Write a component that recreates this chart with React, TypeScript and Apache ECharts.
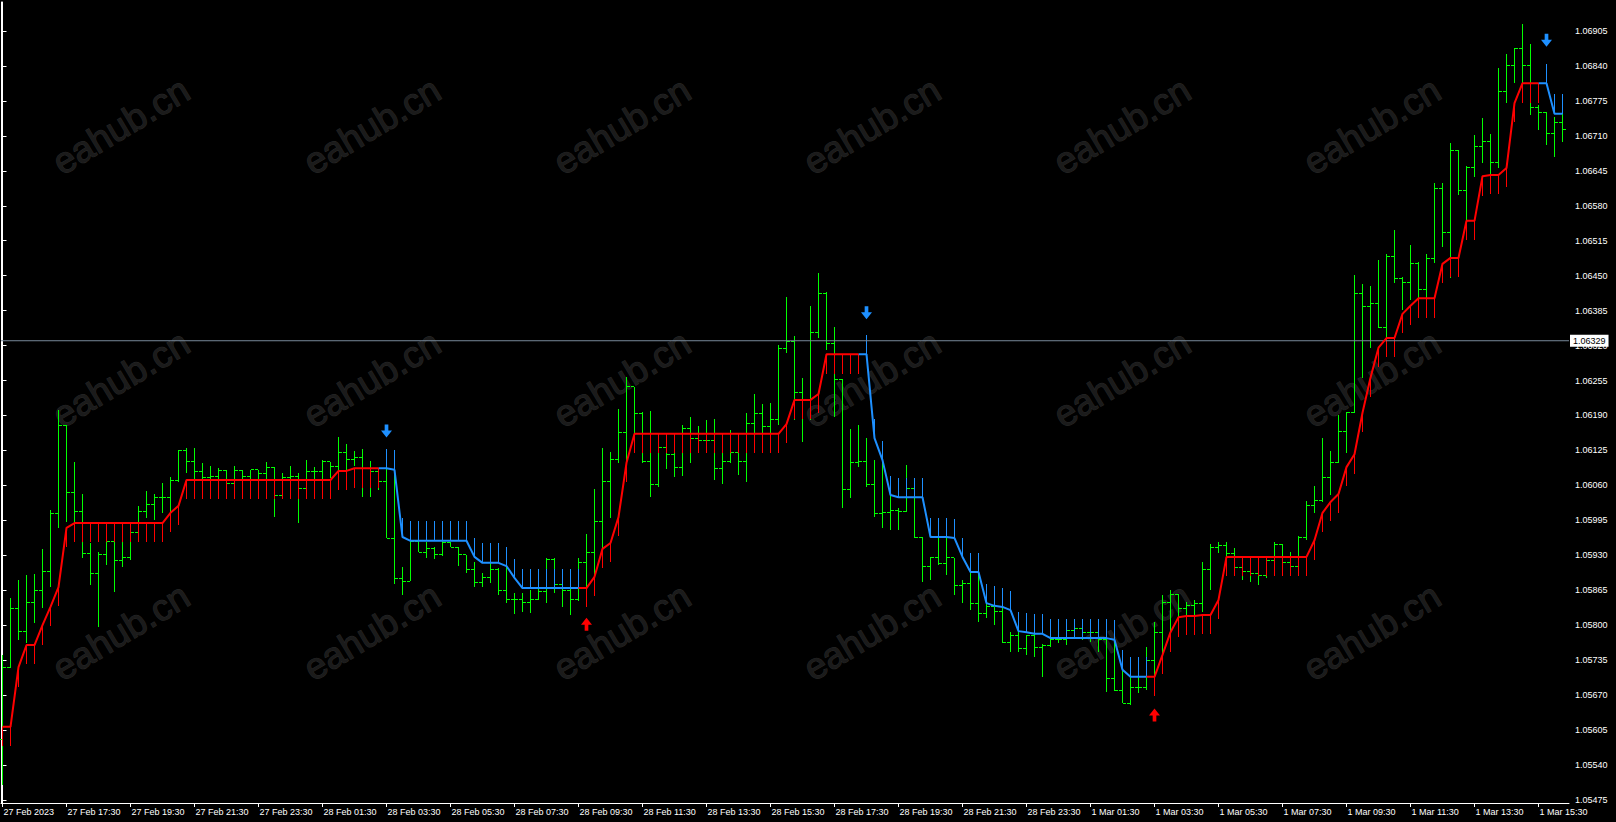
import React, { useEffect, useRef } from "react";
import * as echarts from "echarts";

// ---------- DATA (15-minute EURUSD bars, 27 Feb 2023 15:30 onwards) ----------
const OPEN = [
  1.05587, 1.05722, 1.05832, 1.05789, 1.05843, 1.05864, 1.05899, 1.06007, 1.06172, 1.06046,
  1.06012, 1.05934, 1.05897, 1.05931, 1.05955, 1.05921, 1.05925, 1.05973, 1.06012, 1.06024,
  1.06037, 1.06037, 1.0607, 1.06124, 1.06105, 1.06085, 1.06074, 1.06077, 1.06087, 1.06063,
  1.06087, 1.06077, 1.06089, 1.06083, 1.06094, 1.06042, 1.06074, 1.06077, 1.06055, 1.06085,
  1.06085, 1.06105, 1.06096, 1.06122, 1.06109, 1.06111, 1.06092, 1.06085, 1.06068, 1.05962,
  1.05886, 1.05882, 1.05955, 1.05936, 1.05942, 1.05932, 1.05953, 1.05945, 1.05931, 1.05903,
  1.0588, 1.05888, 1.05903, 1.05864, 1.05847, 1.05847, 1.05843, 1.05847, 1.05862, 1.05923,
  1.05875, 1.05865, 1.05847, 1.05916, 1.05936, 1.05992, 1.06068, 1.06109, 1.06159, 1.06243,
  1.06193, 1.06104, 1.06061, 1.06131, 1.06118, 1.06094, 1.06165, 1.06148, 1.06143, 1.06143,
  1.06092, 1.06105, 1.06122, 1.06104, 1.06176, 1.06193, 1.06169, 1.06182, 1.06314, 1.06327,
  1.06232, 1.06219, 1.06345, 1.06416, 1.06323, 1.06256, 1.06053, 1.06102, 1.06105, 1.06061,
  1.06007, 1.06009, 1.06014, 1.06012, 1.06055, 1.05964, 1.0591, 1.05925, 1.05914, 1.05925,
  1.05873, 1.05877, 1.05841, 1.05821, 1.05834, 1.05825, 1.05767, 1.0578, 1.05756, 1.0578,
  1.05758, 1.05763, 1.05773, 1.05773, 1.05791, 1.05793, 1.05787, 1.05786, 1.05773, 1.057,
  1.05678, 1.05655, 1.05685, 1.05685, 1.05735, 1.05787, 1.05843, 1.05858, 1.05832, 1.05836,
  1.05841, 1.05903, 1.05945, 1.05949, 1.05934, 1.05908, 1.05899, 1.05897, 1.05893, 1.05921,
  1.05951, 1.05916, 1.0591, 1.05964, 1.06022, 1.06031, 1.06074, 1.06102, 1.06161, 1.06196,
  1.06416, 1.06392, 1.06399, 1.06353, 1.06485, 1.06444, 1.06438, 1.06472, 1.06425, 1.06481,
  1.06613, 1.06531, 1.06682, 1.06609, 1.06652, 1.06691, 1.06699, 1.06661, 1.06792, 1.0684,
  1.06872, 1.0684, 1.06762, 1.06753, 1.06715, 1.06734,
];

const HIGH = [
  1.05745, 1.05851, 1.05884, 1.05893, 1.05895, 1.05942, 1.06014, 1.062, 1.06172, 1.06104,
  1.06044, 1.05953, 1.05936, 1.05955, 1.05955, 1.05955, 1.05973, 1.06022, 1.0605, 1.06044,
  1.06064, 1.06076, 1.06126, 1.0613, 1.0613, 1.06102, 1.06096, 1.06092, 1.06089, 1.06096,
  1.06089, 1.06089, 1.06089, 1.06104, 1.06094, 1.06083, 1.06096, 1.06083, 1.06107, 1.06094,
  1.06107, 1.06104, 1.0615, 1.06137, 1.06124, 1.06128, 1.06105, 1.06092, 1.06126, 1.06117,
  1.05908, 1.05957, 1.05957, 1.05955, 1.05945, 1.05957, 1.05955, 1.05945, 1.05931, 1.05918,
  1.05897, 1.05916, 1.05906, 1.05916, 1.0586, 1.0586, 1.05865, 1.05869, 1.05925, 1.05925,
  1.0588, 1.05901, 1.05925, 1.0597, 1.06053, 1.0613, 1.06122, 1.06202, 1.06262, 1.06243,
  1.06196, 1.06198, 1.06131, 1.06135, 1.0612, 1.06172, 1.06187, 1.0617, 1.06182, 1.06183,
  1.06156, 1.06163, 1.06157, 1.06195, 1.0623, 1.06211, 1.06213, 1.06321, 1.0641, 1.06338,
  1.0626, 1.06394, 1.06455, 1.0642, 1.06355, 1.06258, 1.06165, 1.06172, 1.06148, 1.06107,
  1.06122, 1.06074, 1.06018, 1.06098, 1.06055, 1.05964, 1.05927, 1.05964, 1.05964, 1.05925,
  1.05884, 1.05899, 1.05899, 1.05841, 1.05834, 1.05834, 1.05787, 1.05791, 1.05782, 1.05786,
  1.05765, 1.05776, 1.05778, 1.058, 1.0581, 1.05802, 1.05797, 1.05778, 1.05776, 1.05773,
  1.05715, 1.05704, 1.05704, 1.05759, 1.05806, 1.05856, 1.05865, 1.05858, 1.05843, 1.05847,
  1.05918, 1.05951, 1.05955, 1.05955, 1.05944, 1.0591, 1.05903, 1.05901, 1.05925, 1.05955,
  1.05951, 1.05936, 1.05966, 1.06031, 1.06059, 1.06148, 1.06124, 1.06191, 1.06196, 1.06451,
  1.06435, 1.06431, 1.06479, 1.0649, 1.06535, 1.06448, 1.06507, 1.06475, 1.0649, 1.06622,
  1.06622, 1.06697, 1.06684, 1.06654, 1.06712, 1.06743, 1.06713, 1.06836, 1.06862, 1.06873,
  1.06918, 1.06881, 1.06767, 1.06754, 1.06745, 1.06754,
];

const LOW = [
  1.05503, 1.0572, 1.05773, 1.05767, 1.05804, 1.05832, 1.05871, 1.05981, 1.05992, 1.05983,
  1.05925, 1.05875, 1.05797, 1.05912, 1.05862, 1.05908, 1.05921, 1.0597, 1.05999, 1.05996,
  1.06009, 1.06009, 1.06066, 1.06083, 1.06051, 1.06051, 1.06057, 1.06063, 1.06051, 1.06057,
  1.06061, 1.06066, 1.06064, 1.06068, 1.06001, 1.06038, 1.06055, 1.0599, 1.06055, 1.06066,
  1.0607, 1.06074, 1.06089, 1.06089, 1.06096, 1.06038, 1.06038, 1.06051, 1.05962, 1.05877,
  1.05856, 1.05882, 1.05936, 1.05925, 1.05923, 1.05929, 1.05945, 1.0591, 1.05897, 1.05871,
  1.05871, 1.05879, 1.05856, 1.05841, 1.05821, 1.05825, 1.05823, 1.05847, 1.05841, 1.0586,
  1.05834, 1.05819, 1.05845, 1.05847, 1.0589, 1.05942, 1.05999, 1.06102, 1.06066, 1.06157,
  1.06102, 1.06038, 1.06057, 1.06091, 1.06076, 1.06077, 1.06102, 1.0612, 1.06141, 1.0607,
  1.06063, 1.06102, 1.06079, 1.06066, 1.06156, 1.06156, 1.06157, 1.06172, 1.06306, 1.06182,
  1.06141, 1.06182, 1.06334, 1.06312, 1.06187, 1.06018, 1.06037, 1.06094, 1.06057, 1.06001,
  1.05981, 1.05977, 1.05977, 1.06011, 1.05962, 1.0588, 1.05884, 1.05912, 1.05893, 1.05856,
  1.05841, 1.05828, 1.05806, 1.05813, 1.058, 1.05767, 1.0575, 1.0575, 1.05745, 1.05741,
  1.05704, 1.05759, 1.05767, 1.05763, 1.05778, 1.05773, 1.05769, 1.0575, 1.05676, 1.05678,
  1.05655, 1.05652, 1.05674, 1.0568, 1.0568, 1.05745, 1.0575, 1.05815, 1.05815, 1.05815,
  1.05825, 1.05865, 1.05934, 1.05921, 1.05908, 1.05884, 1.0588, 1.05875, 1.05888, 1.05893,
  1.05908, 1.05908, 1.05908, 1.05958, 1.06009, 1.06029, 1.06042, 1.06102, 1.0612, 1.06195,
  1.0626, 1.06316, 1.06353, 1.0633, 1.06436, 1.06386, 1.06405, 1.06395, 1.06395, 1.06474,
  1.06503, 1.06446, 1.066, 1.06554, 1.06634, 1.0666, 1.06635, 1.0665, 1.06771, 1.06808,
  1.06808, 1.06749, 1.06721, 1.06693, 1.06671, 1.06699,
];

const CLOSE = [
  1.05722, 1.05832, 1.05789, 1.05843, 1.05864, 1.05899, 1.06007, 1.06172, 1.06046, 1.06012,
  1.05934, 1.05897, 1.05931, 1.05955, 1.05921, 1.05925, 1.05973, 1.06012, 1.06024, 1.06037,
  1.06037, 1.0607, 1.06124, 1.06105, 1.06085, 1.06074, 1.06077, 1.06087, 1.06063, 1.06087,
  1.06077, 1.06089, 1.06083, 1.06094, 1.06042, 1.06074, 1.06077, 1.06055, 1.06085, 1.06085,
  1.06105, 1.06096, 1.06122, 1.06109, 1.06111, 1.06092, 1.06085, 1.06068, 1.05962, 1.05886,
  1.05882, 1.05955, 1.05936, 1.05942, 1.05932, 1.05953, 1.05945, 1.05931, 1.05903, 1.0588,
  1.05888, 1.05903, 1.05864, 1.05847, 1.05847, 1.05843, 1.05847, 1.05862, 1.05923, 1.05875,
  1.05865, 1.05847, 1.05916, 1.05936, 1.05992, 1.06068, 1.06109, 1.06159, 1.06243, 1.06193,
  1.06104, 1.06061, 1.06131, 1.06118, 1.06094, 1.06165, 1.06148, 1.06143, 1.06143, 1.06092,
  1.06105, 1.06122, 1.06104, 1.06176, 1.06193, 1.06169, 1.06182, 1.06314, 1.06327, 1.06232,
  1.06219, 1.06345, 1.06416, 1.06323, 1.06256, 1.06053, 1.06102, 1.06105, 1.06061, 1.06007,
  1.06009, 1.06014, 1.06012, 1.06055, 1.05964, 1.0591, 1.05925, 1.05914, 1.05925, 1.05873,
  1.05877, 1.05841, 1.05821, 1.05834, 1.05825, 1.05767, 1.0578, 1.05756, 1.0578, 1.05758,
  1.05763, 1.05773, 1.05773, 1.05791, 1.05793, 1.05787, 1.05786, 1.05773, 1.057, 1.05678,
  1.05655, 1.05685, 1.05685, 1.05735, 1.05787, 1.05843, 1.05858, 1.05832, 1.05836, 1.05841,
  1.05903, 1.05945, 1.05949, 1.05934, 1.05908, 1.05899, 1.05897, 1.05893, 1.05921, 1.05951,
  1.05916, 1.0591, 1.05964, 1.06022, 1.06031, 1.06074, 1.06102, 1.06161, 1.06196, 1.06416,
  1.06392, 1.06399, 1.06353, 1.06485, 1.06444, 1.06438, 1.06472, 1.06425, 1.06481, 1.06613,
  1.06531, 1.06682, 1.06609, 1.06652, 1.06691, 1.06699, 1.06661, 1.06792, 1.0684, 1.06872,
  1.0684, 1.06762, 1.06753, 1.06715, 1.06734, 1.06721,
];

// trailing trend-line indicator value per bar
const TREND_LINE = [
  1.05611, 1.05611, 1.05722, 1.05763, 1.05763, 1.058, 1.05834, 1.05871, 1.05981, 1.0599,
  1.0599, 1.0599, 1.0599, 1.0599, 1.0599, 1.0599, 1.0599, 1.0599, 1.0599, 1.0599,
  1.0599, 1.06009, 1.06022, 1.0607, 1.0607, 1.0607, 1.0607, 1.0607, 1.0607, 1.0607,
  1.0607, 1.0607, 1.0607, 1.0607, 1.0607, 1.0607, 1.0607, 1.0607, 1.0607, 1.0607,
  1.0607, 1.0607, 1.06087, 1.06087, 1.06092, 1.06092, 1.06092, 1.06092, 1.06092, 1.06089,
  1.05964, 1.05957, 1.05957, 1.05957, 1.05957, 1.05957, 1.05957, 1.05957, 1.05957, 1.05927,
  1.05916, 1.05916, 1.05916, 1.0591, 1.05888, 1.05869, 1.05869, 1.05869, 1.05869, 1.05869,
  1.05869, 1.05869, 1.05869, 1.05869, 1.0589, 1.05942, 1.05953, 1.06001, 1.06102, 1.06156,
  1.06156, 1.06156, 1.06156, 1.06156, 1.06156, 1.06156, 1.06156, 1.06156, 1.06156, 1.06156,
  1.06156, 1.06156, 1.06156, 1.06156, 1.06156, 1.06156, 1.06156, 1.06156, 1.06174, 1.06219,
  1.06219, 1.06219, 1.0623, 1.06304, 1.06304, 1.06304, 1.06304, 1.06304, 1.06304, 1.06148,
  1.06107, 1.06042, 1.06038, 1.06038, 1.06038, 1.06038, 1.05964, 1.05964, 1.05964, 1.05962,
  1.05927, 1.05899, 1.05899, 1.05841, 1.05836, 1.05834, 1.05828, 1.05789, 1.05787, 1.05784,
  1.05784, 1.05776, 1.05776, 1.05776, 1.05776, 1.05776, 1.05776, 1.05776, 1.05776, 1.05773,
  1.05717, 1.05704, 1.05704, 1.05704, 1.05704, 1.05745, 1.05787, 1.05815, 1.05817, 1.05817,
  1.05819, 1.05819, 1.05847, 1.05927, 1.05927, 1.05927, 1.05927, 1.05927, 1.05927, 1.05927,
  1.05927, 1.05927, 1.05927, 1.05927, 1.05958, 1.06009, 1.06029, 1.06044, 1.06094, 1.06118,
  1.06195, 1.0626, 1.06316, 1.06334, 1.06334, 1.06379, 1.06394, 1.06408, 1.06408, 1.06408,
  1.06472, 1.06483, 1.06483, 1.06552, 1.06552, 1.06635, 1.06637, 1.06637, 1.0665, 1.06771,
  1.06808, 1.06808, 1.06808, 1.06808, 1.06751, 1.06751,
];

const FIRST_TREND_UP = true;
const TREND_FLIP_BARS = [48, 73, 108, 144, 193];
const HIST_DEPTH = 0.00036;

const SELL_ARROW_BARS = [48, 108, 193];
const SELL_ARROW_PRICES = [1.06161, 1.06381, 1.06888];
const BUY_ARROW_BARS = [73, 144];
const BUY_ARROW_PRICES = [1.05802, 1.05633];

const BID_PRICE = 1.06329;

const TIME_LABEL_BARS = [
  0, 8, 16, 24, 32, 40, 48, 56, 64, 72, 80, 88, 96, 104, 112, 120, 128, 136, 144, 152, 160, 168, 176, 184, 192,
];
const TIME_LABELS = [
  "27 Feb 2023", "27 Feb 17:30", "27 Feb 19:30", "27 Feb 21:30", "27 Feb 23:30",
  "28 Feb 01:30", "28 Feb 03:30", "28 Feb 05:30", "28 Feb 07:30", "28 Feb 09:30",
  "28 Feb 11:30", "28 Feb 13:30", "28 Feb 15:30", "28 Feb 17:30", "28 Feb 19:30",
  "28 Feb 21:30", "28 Feb 23:30", "1 Mar 01:30", "1 Mar 03:30", "1 Mar 05:30",
  "1 Mar 07:30", "1 Mar 09:30", "1 Mar 11:30", "1 Mar 13:30", "1 Mar 15:30",
];
const PRICE_LABELS = [
  "1.05475", "1.05540", "1.05605", "1.05670", "1.05735", "1.05800", "1.05865", "1.05930",
  "1.05995", "1.06060", "1.06125", "1.06190", "1.06255", "1.06320", "1.06385", "1.06450",
  "1.06515", "1.06580", "1.06645", "1.06710", "1.06775", "1.06840", "1.06905",
];

const WATERMARK = "eahub.cn";

// ---------- STYLE ----------
const GREEN = "#00ff00";
const RED = "#ff0000";
const BLUE = "#1e90ff";
const FONT = '"Liberation Sans", Arial, sans-serif';
const X_MIN = -0.1875;
const X_MAX = 195.8125;
const Y_MIN = 1.054694;
const Y_MAX = 1.069589;

const DOWN_ARROW = "path://M4,0 L8,0 L8,6 L12,6 L6,13 L0,6 L4,6 Z";
const UP_ARROW = "path://M6,0 L12,7 L8,7 L8,13 L4,13 L4,7 L0,7 Z";

function isUp(i: number): boolean {
  let up = FIRST_TREND_UP;
  for (const b of TREND_FLIP_BARS) if (i >= b) up = !up;
  return up;
}

export default function App() {
  const ref = useRef<HTMLDivElement>(null);

  useEffect(() => {
    if (!ref.current) return;
    const chart = echarts.init(ref.current, undefined, { renderer: "svg" });
    const n = CLOSE.length;

    const ohlc = CLOSE.map((c, i) => [i, OPEN[i], HIGH[i], LOW[i], c]);
    const hist = TREND_LINE.map((v, i) => [i, v, isUp(i) ? 1 : -1]);
    const upData: any[] = [];
    const downData: any[] = [];
    for (let i = 0; i < n; i++) {
      const u = isUp(i);
      const nextUp = i + 1 < n ? isUp(i + 1) : u;
      upData.push([i, u || nextUp ? TREND_LINE[i] : "-"]);
      downData.push([i, !u || !nextUp ? TREND_LINE[i] : "-"]);
    }

    const priceTicks = PRICE_LABELS.map((s) => parseFloat(s));

    const wmCols = [121, 372, 622, 872, 1122, 1372];
    const wmRows = [126, 379, 632];
    const graphics: any[] = [];
    wmRows.forEach((y) =>
      wmCols.forEach((x) =>
        graphics.push({
          type: "text",
          x,
          y,
          z: -10,
          silent: true,
          rotation: (31 * Math.PI) / 180,
          style: {
            text: WATERMARK,
            fill: "#1b1b1b",
            stroke: "#282828",
            lineWidth: 1,
            font: `37px ${FONT}`,
            textAlign: "center",
            textVerticalAlign: "middle",
            align: "center",
            verticalAlign: "middle",
          },
        })
      )
    );

    const option: any = {
      animation: false,
      backgroundColor: "#000000",
      grid: { left: 1, right: 47, top: 2, bottom: 19, containLabel: false },
      graphic: { elements: graphics },
      xAxis: {
        type: "value",
        min: X_MIN,
        max: X_MAX,
        axisLine: { show: true, onZero: false, lineStyle: { color: "#ffffff", width: 1 } },
        axisTick: {
          show: true,
          customValues: TIME_LABEL_BARS,
          length: 4,
          lineStyle: { color: "#ffffff" },
        },
        axisLabel: {
          show: true,
          customValues: TIME_LABEL_BARS,
          formatter: (v: number) => {
            const k = TIME_LABEL_BARS.indexOf(Math.round(v));
            return k >= 0 ? TIME_LABELS[k] : "";
          },
          color: "#ffffff",
          fontSize: 9,
          fontFamily: FONT,
          align: "left",
          margin: 4,
          padding: [0, 0, 0, 1],
        },
        splitLine: { show: false },
      },
      yAxis: [
        {
          type: "value",
          position: "right",
          min: Y_MIN,
          max: Y_MAX,
          axisLine: { show: true, lineStyle: { color: "#ffffff", width: 1 } },
          axisTick: {
            show: true,
            customValues: priceTicks,
            length: 4,
            lineStyle: { color: "#ffffff" },
          },
          axisLabel: {
            show: true,
            customValues: priceTicks,
            formatter: (v: number) => v.toFixed(5),
            color: "#ffffff",
            fontSize: 9,
            fontFamily: FONT,
            margin: 6,
          },
          splitLine: { show: false },
        },
        {
          type: "value",
          position: "left",
          min: Y_MIN,
          max: Y_MAX,
          axisLine: { show: true, lineStyle: { color: "#ffffff", width: 1 } },
          axisTick: { show: false },
          axisLabel: { show: false },
          splitLine: { show: false },
        },
      ],
      series: [
        {
          type: "custom",
          name: "bars",
          z: 2,
          silent: true,
          data: ohlc,
          renderItem: (params: any, api: any) => {
            const i = api.value(0);
            const pO = api.coord([i, api.value(1)]);
            const pH = api.coord([i, api.value(2)]);
            const pL = api.coord([i, api.value(3)]);
            const pC = api.coord([i, api.value(4)]);
            const x = Math.floor(pO[0]) + 0.5;
            const yH = Math.round(pH[1]);
            const yL = Math.max(Math.round(pL[1]), yH + 1);
            const yO = Math.floor(pO[1]) + 0.5;
            const yC = Math.floor(pC[1]) + 0.5;
            const st = { stroke: GREEN, lineWidth: 1 };
            return {
              type: "group",
              children: [
                { type: "line", shape: { x1: x, y1: yH, x2: x, y2: yL }, style: st },
                { type: "line", shape: { x1: x - 3.5, y1: yO, x2: x - 0.5, y2: yO }, style: st },
                { type: "line", shape: { x1: x + 0.5, y1: yC, x2: x + 3.5, y2: yC }, style: st },
              ],
            };
          },
        },
        {
          type: "custom",
          name: "hist",
          z: 3,
          silent: true,
          data: hist,
          renderItem: (params: any, api: any) => {
            const i = api.value(0);
            const v = api.value(1);
            const d = api.value(2);
            const p1 = api.coord([i, v]);
            const p2 = api.coord([i, d > 0 ? v - HIST_DEPTH : v + HIST_DEPTH]);
            const x = Math.floor(p1[0]) + 0.5;
            return {
              type: "line",
              shape: { x1: x, y1: Math.round(p1[1]), x2: x, y2: Math.round(p2[1]) },
              style: { stroke: d > 0 ? RED : BLUE, lineWidth: 1 },
            };
          },
        },
        {
          type: "line",
          name: "bid",
          z: 3,
          silent: true,
          symbol: "none",
          data: [
            [X_MIN, BID_PRICE],
            [X_MAX, BID_PRICE],
          ],
          lineStyle: { color: "#778899", width: 1 },
          itemStyle: { color: "#778899" },
          clip: false,
          endLabel: {
            show: true,
            distance: 1,
            formatter: () => BID_PRICE.toFixed(5),
            backgroundColor: "#ffffff",
            color: "#000000",
            fontSize: 9,
            fontFamily: FONT,
            padding: [2, 3, 1, 3],
          },
        },
        {
          type: "line",
          name: "trendDown",
          z: 4,
          silent: true,
          data: downData,
          symbol: "none",
          connectNulls: false,
          lineStyle: { color: BLUE, width: 2 },
          itemStyle: { color: BLUE },
        },
        {
          type: "line",
          name: "trendUp",
          z: 4,
          silent: true,
          data: upData,
          symbol: "none",
          connectNulls: false,
          lineStyle: { color: RED, width: 2 },
          itemStyle: { color: RED },
        },
        {
          type: "scatter",
          name: "sell",
          z: 5,
          silent: true,
          symbol: DOWN_ARROW,
          symbolSize: [11, 13],
          itemStyle: { color: BLUE, opacity: 1 },
          data: SELL_ARROW_BARS.map((b, k) => [b, SELL_ARROW_PRICES[k]]),
        },
        {
          type: "scatter",
          name: "buy",
          z: 5,
          silent: true,
          symbol: UP_ARROW,
          symbolSize: [11, 13],
          itemStyle: { color: RED, opacity: 1 },
          data: BUY_ARROW_BARS.map((b, k) => [b, BUY_ARROW_PRICES[k]]),
        },
      ],
    };

    chart.setOption(option);
    return () => chart.dispose();
  }, []);

  return (
    <div
      ref={ref}
      style={{ position: "fixed", left: 0, top: 0, width: 1616, height: 822, background: "#000" }}
    />
  );
}
